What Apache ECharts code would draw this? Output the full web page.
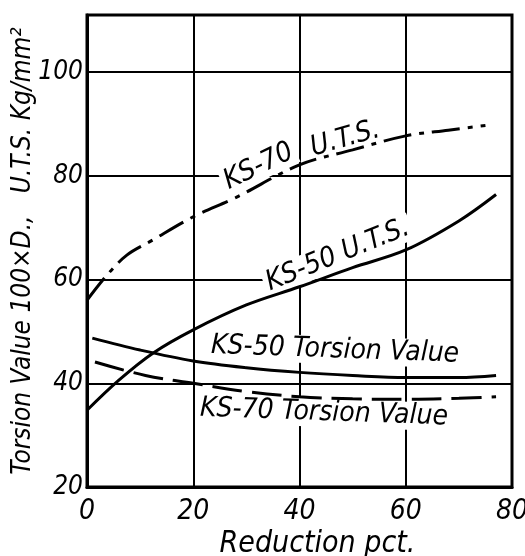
<!DOCTYPE html>
<html>
<head>
<meta charset="utf-8">
<script src="https://cdn.jsdelivr.net/npm/echarts@6/dist/echarts.min.js"></script>
<style>
html,body{margin:0;padding:0;background:#fff;}
#chart{width:525px;height:556px;}
</style>
</head>
<body>
<div id="chart"></div>
<script>
// ---- data ----
var xTicks = [0, 20, 40, 60, 80];
var yTicks = [20, 40, 60, 80, 100];

var ks70UTS = [[0,56.0],[3.8,60.9],[7.5,64.7],[12,67.4],[20,72.1],[28,75.8],[40,82.1],[50,85.0],[60,87.7],[68,88.8],[75,89.7]];
var ks50UTS = [[0,34.8],[6,40.6],[12.4,45.8],[20,50.3],[30,55.1],[40,58.6],[50,62.3],[60,65.7],[70,71.3],[77,76.4]];
var ks50TV  = [[1,48.7],[10,46.4],[20,44.3],[30,43.0],[40,42.1],[50,41.5],[60,41.1],[70,41.1],[77,41.5]];
var ks70TV  = [[1.5,44.1],[11,41.5],[20,40.0],[30,38.4],[40,37.4],[50,37.0],[60,36.9],[70,37.1],[77,37.4]];

var labelTexts = ['KS-70', 'U.T.S.', 'KS-50 U.T.S.', 'KS-50 Torsion Value', 'KS-70 Torsion Value'];
var labelAnchors = [[32.3, 81.8], [48.6, 87.1], [47.2, 64.7], [46.7, 46.4], [44.6, 34.3]];
var labelAngles = [26, 16, 22, -2, -2];

var FONT = "'DejaVu Sans Condensed', 'Liberation Sans Narrow', sans-serif";

var chart = echarts.init(document.getElementById('chart'), null, {renderer: 'canvas'});

function lineSeries(name, data, type) {
  return {
    name: name, type: 'line', data: data, smooth: 0.35, showSymbol: false, zlevel: 1, z: 3,
    lineStyle: {color: '#000', width: 3, type: type, cap: 'butt'}
  };
}

var option = {
  backgroundColor: '#fff',
  animation: false,
  grid: {left: 87, top: 15, right: 13, bottom: 69, containLabel: false, outerBoundsMode: 'none',
    show: true, borderColor: '#000', borderWidth: 3, backgroundColor: 'transparent'},
  xAxis: {
    type: 'value', min: 0, max: 80, interval: 20,
    name: 'Reduction pct.', nameLocation: 'middle', nameGap: 42, nameMoveOverlap: false,
    nameTextStyle: {fontFamily: FONT, fontStyle: 'italic', fontSize: 30, color: '#000', padding: [0,0,0,36]},
    axisLine: {show: true, lineStyle: {color: '#000', width: 3}},
    axisTick: {show: false},
    axisLabel: {fontFamily: FONT, fontStyle: 'italic', fontSize: 28, color: '#000', margin: 11,
      formatter: function (v) { return xTicks.indexOf(v) >= 0 ? String(v) : ''; }},
    splitLine: {show: true, lineStyle: {color: '#000', width: 2}}
  },
  yAxis: {
    type: 'value', min: 20, max: 111, interval: 20,
    name: 'Torsion Value 100\u00d7D.,   U.T.S. Kg/mm\u00b2', nameLocation: 'middle', nameGap: 51, nameRotate: 90,
    nameMoveOverlap: false,
    nameTextStyle: {fontFamily: FONT, fontStyle: 'italic', fontSize: 26, color: '#000'},
    axisLine: {show: true, lineStyle: {color: '#000', width: 3}},
    axisTick: {show: false},
    axisLabel: {fontFamily: FONT, fontStyle: 'italic', fontSize: 26, color: '#000', margin: 4,
      formatter: function (v) { return yTicks.indexOf(v) >= 0 ? String(v) : ''; }},
    splitLine: {show: true, lineStyle: {color: '#000', width: 2}}
  },
  series: [
    lineSeries('KS-70 U.T.S.', ks70UTS, [28, 8, 5, 8]),
    lineSeries('KS-50 U.T.S.', ks50UTS, 'solid'),
    lineSeries('KS-50 Torsion Value', ks50TV, 'solid'),
    lineSeries('KS-70 Torsion Value', ks70TV, [30, 10])
  ]
};
chart.setOption(option);

var graphics = labelTexts.map(function (t, i) {
  var p = chart.convertToPixel({gridIndex: 0}, labelAnchors[i]);
  return {
    type: 'text', x: p[0], y: p[1], rotation: labelAngles[i] * Math.PI / 180, z: 1,
    style: {text: t, font: 'italic 28px ' + FONT, fill: '#000', align: 'center', verticalAlign: 'middle',
      backgroundColor: '#fff', padding: [0, 3]}
  };
});
chart.setOption({graphic: graphics});
</script>
</body>
</html>
